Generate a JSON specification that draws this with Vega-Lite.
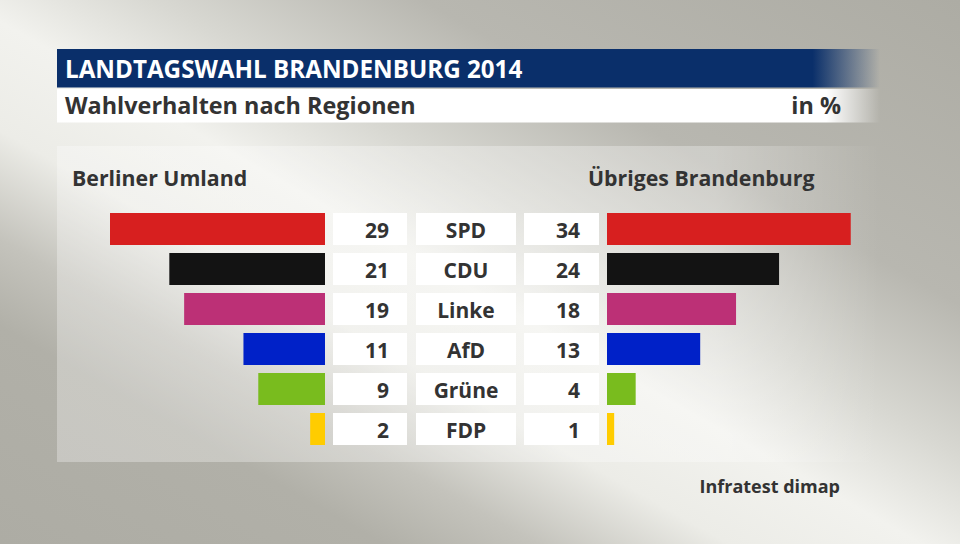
{
  "$schema": "https://vega.github.io/schema/vega-lite/v6.json",
  "width": 960,
  "height": 544,
  "padding": 0,
  "autosize": {"type": "fit", "contains": "padding"},
  "background": "#b0afa7",
  "view": {
    "stroke": null,
    "fill": {
      "gradient": "linear", "x1": 1, "y1": 0, "x2": 0, "y2": 1,
      "stops": [
        {"offset": 0, "color": "#adaca4"},
        {"offset": 0.28, "color": "#b8b7b0"},
        {"offset": 0.42, "color": "#d8d8d2"},
        {"offset": 0.52, "color": "#f2f2ee"},
        {"offset": 0.62, "color": "#ecece7"},
        {"offset": 0.72, "color": "#c4c3bc"},
        {"offset": 0.8, "color": "#b1b0a8"},
        {"offset": 1, "color": "#adaca4"}
      ]
    }
  },
  "config": {"font": "Open Sans", "text": {"font": "Open Sans"}},
  "data": {
    "values": [
      {"party": "SPD", "umland": 29, "uebrig": 34},
      {"party": "CDU", "umland": 21, "uebrig": 24},
      {"party": "Linke", "umland": 19, "uebrig": 18},
      {"party": "AfD", "umland": 11, "uebrig": 13},
      {"party": "Grüne", "umland": 9, "uebrig": 4},
      {"party": "FDP", "umland": 2, "uebrig": 1}
    ]
  },
  "layer": [
    {
      "data": {"values": [{}]},
      "mark": {
        "type": "rect",
        "fill": {
          "gradient": "linear", "x1": 0, "y1": 0, "x2": 1, "y2": 0,
          "stops": [
            {"offset": 0, "color": "rgba(255,255,255,0.3)"},
            {"offset": 0.8, "color": "rgba(255,255,255,0.3)"},
            {"offset": 1, "color": "rgba(255,255,255,0)"}
          ]
        }
      },
      "encoding": {"x": {"value": 57}, "x2": {"value": 880}, "y": {"value": 146}, "y2": {"value": 462}}
    },
    {
      "data": {"values": [{}]},
      "mark": {
        "type": "rect",
        "fill": {
          "gradient": "linear", "x1": 0, "y1": 0, "x2": 1, "y2": 0,
          "stops": [
            {"offset": 0, "color": "#0a2f6a"},
            {"offset": 0.918, "color": "#0a2f6a"},
            {"offset": 1, "color": "rgba(10,47,106,0)"}
          ]
        }
      },
      "encoding": {"x": {"value": 57}, "x2": {"value": 880}, "y": {"value": 49}, "y2": {"value": 87.5}}
    },
    {
      "data": {"values": [{}]},
      "mark": {
        "type": "rect",
        "fill": {
          "gradient": "linear", "x1": 0, "y1": 0, "x2": 1, "y2": 0,
          "stops": [
            {"offset": 0, "color": "#ffffff"},
            {"offset": 0.935, "color": "#ffffff"},
            {"offset": 1, "color": "rgba(255,255,255,0)"}
          ]
        }
      },
      "encoding": {"x": {"value": 57}, "x2": {"value": 880}, "y": {"value": 89}, "y2": {"value": 122.5}}
    },
    {
      "data": {"values": [{}]},
      "mark": {"type": "text", "text": "LANDTAGSWAHL BRANDENBURG 2014", "align": "left", "baseline": "alphabetic", "fontSize": 24.2, "fontWeight": "bold", "color": "#ffffff"},
      "encoding": {"x": {"value": 65}, "y": {"value": 77.5}}
    },
    {
      "data": {"values": [{}]},
      "mark": {"type": "text", "text": "Wahlverhalten nach Regionen", "align": "left", "baseline": "alphabetic", "fontSize": 23.4, "fontWeight": "bold", "color": "#333333"},
      "encoding": {"x": {"value": 65}, "y": {"value": 113.5}}
    },
    {
      "data": {"values": [{}]},
      "mark": {"type": "text", "text": "in %", "align": "right", "baseline": "alphabetic", "fontSize": 23.4, "fontWeight": "bold", "color": "#333333"},
      "encoding": {"x": {"value": 841}, "y": {"value": 113.5}}
    },
    {
      "data": {"values": [{}]},
      "mark": {"type": "text", "text": "Berliner Umland", "align": "left", "baseline": "alphabetic", "fontSize": 21.3, "fontWeight": "bold", "color": "#333333"},
      "encoding": {"x": {"value": 72}, "y": {"value": 185.5}}
    },
    {
      "data": {"values": [{}]},
      "mark": {"type": "text", "text": "Übriges Brandenburg", "align": "left", "baseline": "alphabetic", "fontSize": 21.3, "fontWeight": "bold", "color": "#333333"},
      "encoding": {"x": {"value": 588}, "y": {"value": 185.5}}
    },
    {
      "data": {"values": [{}]},
      "mark": {"type": "text", "text": "Infratest dimap", "align": "right", "baseline": "alphabetic", "fontSize": 18, "fontWeight": "bold", "color": "#333333"},
      "encoding": {"x": {"value": 840}, "y": {"value": 493}}
    },
    {
      "mark": {"type": "bar"},
      "encoding": {
        "y": {"field": "party", "type": "nominal", "scale": {"domain": ["SPD", "CDU", "Linke", "AfD", "Grüne", "FDP"], "range": [213, 445], "paddingInner": 0.2, "paddingOuter": 0}, "axis": null},
        "x": {"field": "umland", "type": "quantitative", "scale": {"domain": [0, 36.15], "range": [325, 57]}, "axis": null},
        "color": {"field": "party", "type": "nominal", "scale": {"domain": ["SPD", "CDU", "Linke", "AfD", "Grüne", "FDP"], "range": ["#d71f1f", "#131313", "#bc3076", "#0021c8", "#79bc1e", "#ffcc00"]}, "legend": null}
      }
    },
    {
      "mark": {"type": "bar"},
      "encoding": {
        "y": {"field": "party", "type": "nominal", "axis": null},
        "x": {"field": "uebrig", "type": "quantitative", "scale": {"domain": [0, 38.08], "range": [607, 880]}, "axis": null},
        "color": {"field": "party", "type": "nominal", "legend": null}
      }
    },
    {
      "mark": {"type": "bar", "color": "#ffffff"},
      "encoding": {
        "y": {"field": "party", "type": "nominal", "axis": null},
        "x": {"value": 333}, "x2": {"value": 407}
      }
    },
    {
      "mark": {"type": "bar", "color": "#ffffff"},
      "encoding": {
        "y": {"field": "party", "type": "nominal", "axis": null},
        "x": {"value": 416}, "x2": {"value": 516}
      }
    },
    {
      "mark": {"type": "bar", "color": "#ffffff"},
      "encoding": {
        "y": {"field": "party", "type": "nominal", "axis": null},
        "x": {"value": 524}, "x2": {"value": 599}
      }
    },
    {
      "mark": {"type": "text", "align": "right", "baseline": "alphabetic", "dy": 8.5, "fontSize": 21, "fontWeight": "bold", "color": "#333333"},
      "encoding": {
        "y": {"field": "party", "type": "nominal", "axis": null},
        "x": {"value": 389},
        "text": {"field": "umland", "type": "quantitative"}
      }
    },
    {
      "mark": {"type": "text", "align": "center", "baseline": "alphabetic", "dy": 8.5, "fontSize": 21, "fontWeight": "bold", "color": "#333333"},
      "encoding": {
        "y": {"field": "party", "type": "nominal", "axis": null},
        "x": {"value": 466},
        "text": {"field": "party", "type": "nominal"}
      }
    },
    {
      "mark": {"type": "text", "align": "right", "baseline": "alphabetic", "dy": 8.5, "fontSize": 21, "fontWeight": "bold", "color": "#333333"},
      "encoding": {
        "y": {"field": "party", "type": "nominal", "axis": null},
        "x": {"value": 580},
        "text": {"field": "uebrig", "type": "quantitative"}
      }
    }
  ],
  "resolve": {"scale": {"x": "independent"}}
}
